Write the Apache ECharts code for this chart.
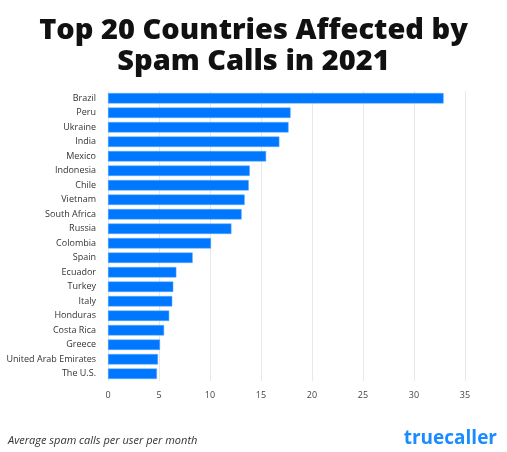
<!DOCTYPE html>
<html><head><meta charset="utf-8">
<script src="https://cdn.jsdelivr.net/npm/echarts@6/dist/echarts.min.js"></script>
<style>html,body{margin:0;background:#fff}#c{width:507px;height:452px}</style>
</head><body><div id="c"></div>
<script>
const countries = ['Brazil','Peru','Ukraine','India','Mexico','Indonesia','Chile','Vietnam','South Africa','Russia','Colombia','Spain','Ecuador','Turkey','Italy','Honduras','Costa Rica','Greece','United Arab Emirates','The U.S.'];
const spamCalls = [32.9,17.9,17.7,16.8,15.5,13.9,13.8,13.4,13.1,12.1,10.1,8.3,6.7,6.4,6.3,6.0,5.5,5.1,4.9,4.8];
const xTicks = [0,5,10,15,20,25,30,35];

const chart = echarts.init(document.getElementById('c'));
chart.setOption({
    animation: false,
    title: {
        text: 'Top 20 Countries Affected by\nSpam Calls in 2021',
        left: 'center', top: 10,
        textStyle: {fontFamily: 'Open Sans', fontWeight: 800, fontSize: 29, lineHeight: 31, color: '#111'}
    },
    graphic: [
        {type: 'text', left: 8, top: 435, style: {text: 'Average spam calls per user per month', font: 'italic 11px "Open Sans"', fill: '#333'}},
        {type: 'text', right: 10, top: 429, style: {text: 'truecaller', font: 'bold 19px "Open Sans"', fill: '#1a8cff'}}
    ],
    grid: {left: 108, right: 42, top: 91, bottom: 71},
    xAxis: {
        type: 'value', min: 0, max: 35, interval: 5,
        axisLabel: {color: '#444', fontSize: 9, fontFamily: 'Open Sans', margin: 10,
            formatter: v => xTicks.includes(v) ? String(v) : ''},
        splitLine: {lineStyle: {color: '#e8e8e8'}},
        axisLine: {show: false}, axisTick: {show: false}
    },
    yAxis: {
        type: 'category', data: countries, inverse: true,
        axisLabel: {color: '#333', fontSize: 9, fontFamily: 'Open Sans', margin: 12},
        axisLine: {show: false}, axisTick: {show: false}
    },
    series: [{
        type: 'bar', data: spamCalls, barWidth: '72%',
        itemStyle: {color: '#0077ff', borderColor: '#5aaaff', borderWidth: 0.5}
    }]
});
</script></body></html>
